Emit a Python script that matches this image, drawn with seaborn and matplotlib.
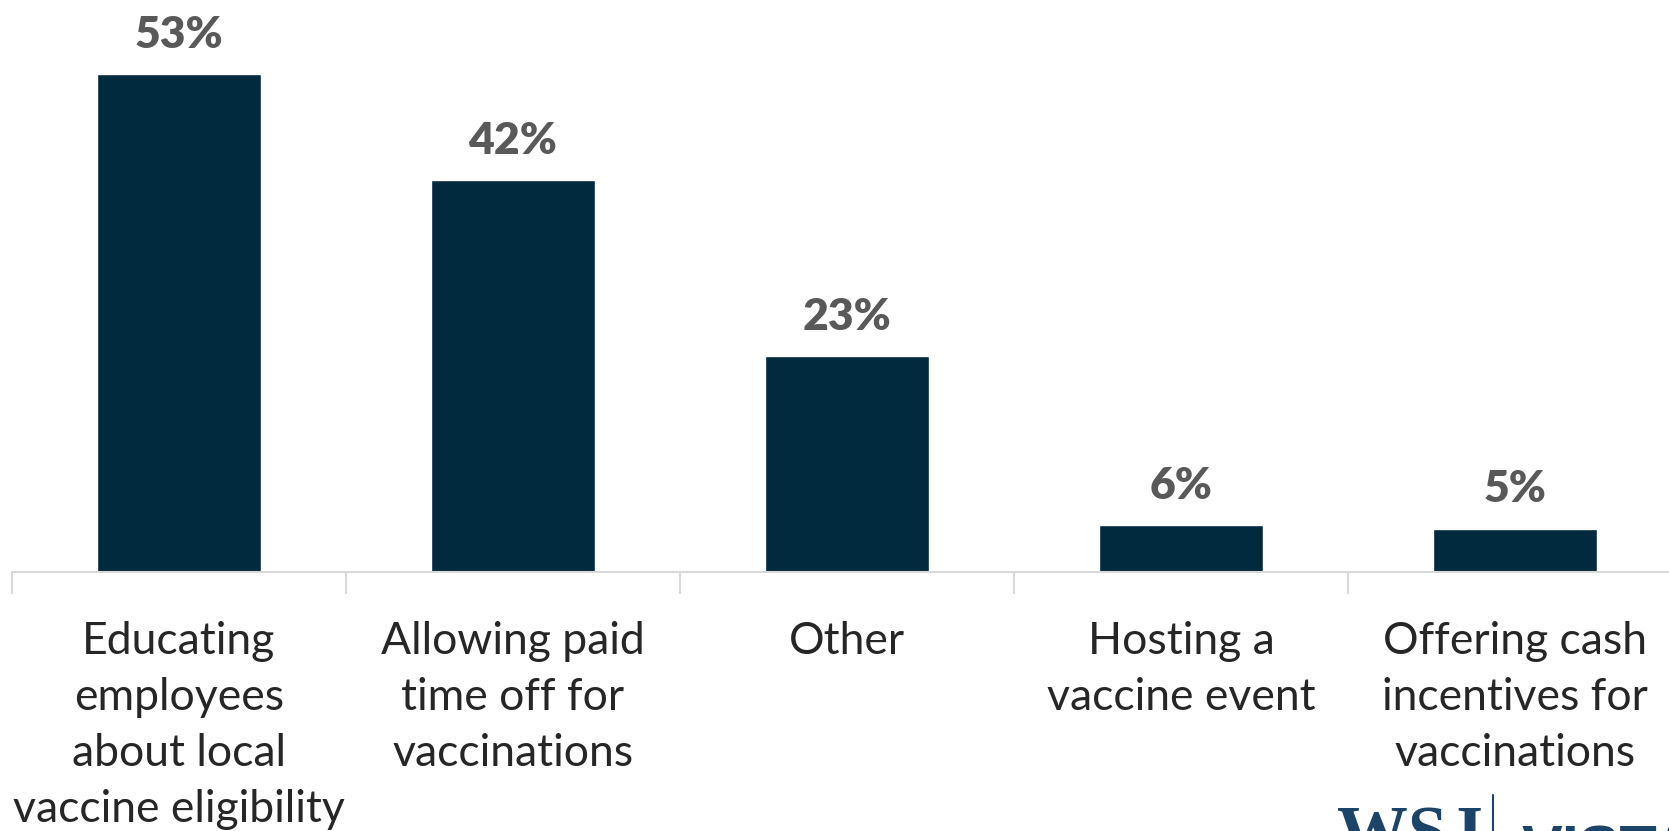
import matplotlib
matplotlib.use('Agg')
import matplotlib.pyplot as plt
from matplotlib.lines import Line2D
from matplotlib.ticker import FixedLocator
import seaborn as sns

# 데이터
categories = ['Educating\nemployees\nabout local\nvaccine eligibility',
              'Allowing paid\ntime off for\nvaccinations',
              'Other',
              'Hosting a\nvaccine event',
              'Offering cash\nincentives for\nvaccinations']
values = [53.1, 41.8, 23.0, 5.0, 4.6]
value_labels = ['53%', '42%', '23%', '6%', '5%']

bar_color = '#022a3e'
label_gray = '#595959'
grid_gray = '#d9d9d9'

sns.set_style('white')
plt.rcParams['font.family'] = ['Lato', 'DejaVu Sans']

fig = plt.figure(figsize=(16.69, 8.31), dpi=100)
ax = fig.add_axes([12 / 1669, 259 / 831, 1670 / 1669, 572 / 831])

sns.barplot(x=categories, y=values, color=bar_color, saturation=1,
            width=0.49, ax=ax)

ax.set_xlim(-0.5, 4.5)
ax.set_ylim(0, 61)

# 값 라벨
for i, (v, s) in enumerate(zip(values, value_labels)):
    ax.annotate(s, (i, v), xytext=(0, 19), textcoords='offset points',
                ha='center', va='baseline', fontsize=32, fontweight='heavy',
                color=label_gray)

# 축 꾸미기
for side in ['top', 'right', 'left']:
    ax.spines[side].set_visible(False)
ax.spines['bottom'].set_color(grid_gray)
ax.spines['bottom'].set_linewidth(1.5)
ax.set_yticks([])
ax.tick_params(axis='x', which='major', bottom=True, length=0, pad=35,
               labelsize=32, labelcolor='#262626')
ax.xaxis.set_minor_locator(FixedLocator([-0.5, 0.5, 1.5, 2.5, 3.5, 4.5]))
ax.tick_params(axis='x', which='minor', bottom=True, length=16, width=1.5,
               color=grid_gray, direction='out')
for t in ax.get_xticklabels():
    t.set_linespacing(1.46)
ax.set_xlabel('')
ax.set_ylabel('')

# 로고
logo_color = '#1c4468'
fig.text(1337 / 1669, -0.03, 'WSJ', fontsize=51, fontweight='bold',
         family='Liberation Serif', color=logo_color, ha='left', va='baseline')
fig.add_artist(Line2D([1493 / 1669, 1493 / 1669], [0, 36 / 831],
                      color=logo_color, lw=1.5))
fig.text(1522 / 1669, -0.045, 'VISTA', fontsize=44, fontweight='bold',
         family='Liberation Sans', color=logo_color, ha='left', va='baseline')

fig.savefig('out.png', dpi=100)
